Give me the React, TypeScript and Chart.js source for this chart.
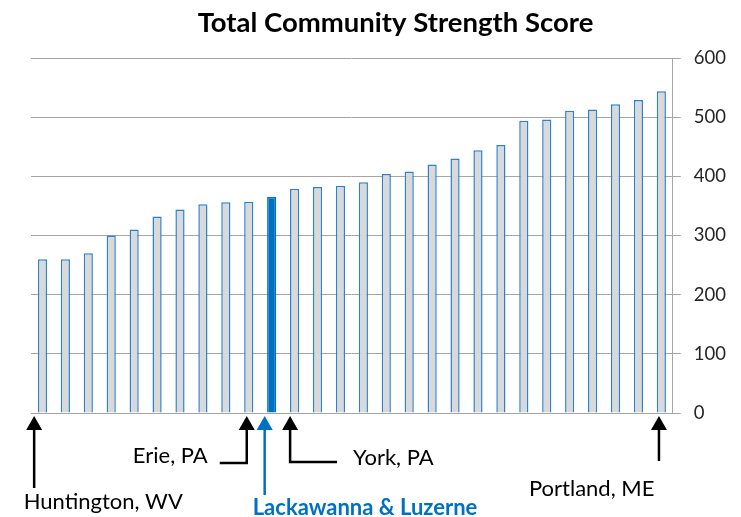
import React, { useEffect, useRef } from 'react';
import { Chart, registerables } from 'chart.js';

Chart.register(...registerables);

const categories = [
  '1', '2', '3', '4', '5', '6', '7', '8', '9', '10', '11', '12', '13', '14',
  '15', '16', '17', '18', '19', '20', '21', '22', '23', '24', '25', '26', '27', '28',
];
const scores = [
  260, 260, 270, 300, 310, 332, 344, 353, 356, 357, 365, 379, 382, 384,
  390, 404, 408, 420, 430, 444, 453, 494, 496, 511, 513, 522, 529, 544,
];
const highlightIndex = 10;
const yTicks = [0, 100, 200, 300, 400, 500, 600];
const annotationLabels = ['Huntington, WV', 'Erie, PA', 'Lackawanna & Luzerne', 'York, PA', 'Portland, ME'];
const annotationIndices = [0, 9, 10, 11, 27];

const TITLE = 'Total Community Strength Score';
const FONT = 'Lato, "Open Sans", sans-serif';
const BLUE = '#0070C0';

const titlePlugin = {
  id: 'offsetTitle',
  afterDraw(chart: any) {
    const ctx = chart.ctx as CanvasRenderingContext2D;
    ctx.save();
    ctx.fillStyle = '#000';
    ctx.font = `bold 27.5px ${FONT}`;
    ctx.textAlign = 'center';
    ctx.textBaseline = 'middle';
    ctx.fillText(TITLE, 395.5, 23);
    ctx.restore();
  },
};

const annotationPlugin = {
  id: 'arrowAnnotations',
  afterDraw(chart: any) {
    const ctx = chart.ctx as CanvasRenderingContext2D;
    const xs = chart.scales.x;
    const base = chart.chartArea.bottom;
    const tipY = base + 3;
    const px = (i: number) => xs.getPixelForValue(i);

    const drawArrow = (x: number, bottom: number, color: string, elbowTo?: number) => {
      ctx.save();
      ctx.strokeStyle = color;
      ctx.fillStyle = color;
      ctx.lineWidth = 2.5;
      ctx.lineJoin = 'miter';
      ctx.beginPath();
      ctx.moveTo(x, tipY + 10);
      ctx.lineTo(x, bottom);
      if (elbowTo !== undefined) ctx.lineTo(elbowTo, bottom);
      ctx.stroke();
      ctx.beginPath();
      ctx.moveTo(x, tipY);
      ctx.lineTo(x - 8, tipY + 14);
      ctx.lineTo(x + 8, tipY + 14);
      ctx.closePath();
      ctx.fill();
      ctx.restore();
    };
    const drawText = (t: string, x: number, y: number, align: CanvasTextAlign, color: string, bold = false) => {
      ctx.save();
      ctx.fillStyle = color;
      ctx.font = `${bold ? 'bold ' : ''}22px ${FONT}`;
      ctx.textAlign = align;
      ctx.textBaseline = 'middle';
      ctx.fillText(t, x, y);
      ctx.restore();
    };

    // Huntington
    const x0 = px(annotationIndices[0]) - 8.3;
    drawArrow(x0, base + 75, '#000');
    drawText(annotationLabels[0], x0 - 10.5, base + 89, 'left', '#000');
    // Erie
    const x1 = px(annotationIndices[1]) - 2;
    drawArrow(x1, base + 50, '#000', x1 - 27);
    drawText(annotationLabels[1], x1 - 39, base + 43, 'right', '#000');
    // Lackawanna & Luzerne
    const x2 = px(annotationIndices[2]) - 7;
    drawArrow(x2, base + 82, BLUE);
    drawText(annotationLabels[2], x2 - 12, base + 95, 'left', BLUE, true);
    // York
    const x3 = px(annotationIndices[3]) - 4.5;
    drawArrow(x3, base + 49, '#000', x3 + 47);
    drawText(annotationLabels[3], x3 + 63, base + 45, 'left', '#000');
    // Portland
    const x4 = px(annotationIndices[4]) - 2.4;
    drawArrow(x4, base + 48, '#000');
    drawText(annotationLabels[4], x4 - 4.5, base + 76, 'right', '#000');
  },
};

export default function App() {
  const ref = useRef<HTMLCanvasElement | null>(null);
  useEffect(() => {
    if (!ref.current) return;
    const chart = new Chart(ref.current, {
      type: 'bar',
      data: {
        labels: categories,
        datasets: [
          {
            data: scores,
            backgroundColor: scores.map((_, i) => (i === highlightIndex ? BLUE : '#D9D9D9')),
            borderColor: scores.map((_, i) => (i === highlightIndex ? BLUE : '#2A82D0')),
            borderWidth: 1.5,
            barPercentage: 0.4,
            categoryPercentage: 1,
          },
        ],
      },
      options: {
        animation: false,
        responsive: false,
        maintainAspectRatio: false,
        layout: { padding: { left: 31, right: 2, top: 58, bottom: 96 } },
        plugins: {
          legend: { display: false },
          tooltip: { enabled: false },
          title: { display: false },
        },
        scales: {
          x: {
            ticks: { display: false },
            grid: { display: false },
            border: { display: false },
          },
          y: {
            position: 'right',
            min: 0,
            max: 600,
            afterBuildTicks: (axis: any) => {
              axis.ticks = yTicks.map((v) => ({ value: v }));
            },
            ticks: {
              color: '#262626',
              font: { family: FONT, size: 18.5 },
              padding: 13,
            },
            grid: { color: '#A6A6A6', lineWidth: 1, tickLength: 8 },
            border: { display: true, color: '#A6A6A6' },
          },
        },
      },
      plugins: [titlePlugin, annotationPlugin],
    });
    return () => chart.destroy();
  }, []);
  return (
    <div style={{ position: 'fixed', left: 0, top: 0, width: 741, height: 517, background: '#fff' }}>
      <canvas ref={ref} width={741} height={517} style={{ width: 741, height: 517 }} />
    </div>
  );
}
